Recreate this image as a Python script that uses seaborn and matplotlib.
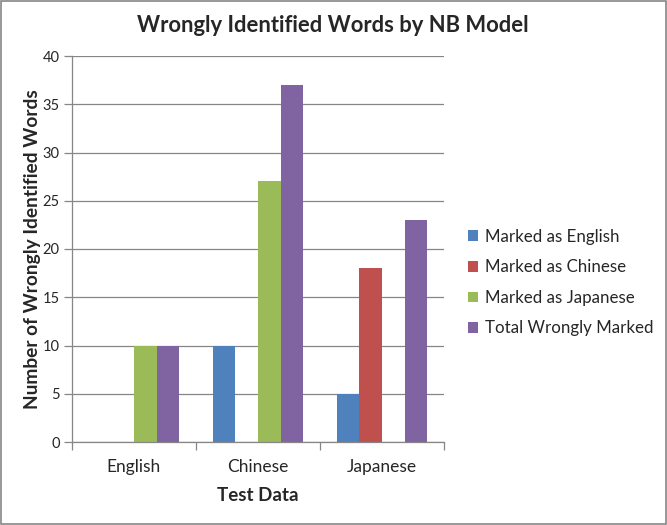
import matplotlib
matplotlib.use("Agg")
import matplotlib.pyplot as plt
import seaborn as sns
import pandas as pd
from matplotlib.patches import Rectangle

categories = ["English", "Chinese", "Japanese"]
series = ["Marked as English", "Marked as Chinese", "Marked as Japanese", "Total Wrongly Marked"]
marked_english = [0, 10, 5]
marked_chinese = [0, 0, 18]
marked_japanese = [10, 27, 0]
total_wrong = [10, 37, 23]
colors = ["#4F81BD", "#C0504D", "#9BBB59", "#8064A2"]

rows = []
for s, vals in zip(series, [marked_english, marked_chinese, marked_japanese, total_wrong]):
    for c, v in zip(categories, vals):
        rows.append({"Test Data": c, "Series": s, "Value": v})
df = pd.DataFrame(rows)

sns.set_theme(style="white")
plt.rcParams["font.family"] = ["Lato", "DejaVu Sans"]

fig = plt.figure(figsize=(6.67, 5.25), dpi=100)
ax = fig.add_axes([72/667, 83/525, 372/667, 386/525])

sns.barplot(data=df, x="Test Data", y="Value", hue="Series", hue_order=series,
            order=categories, palette=colors, width=0.726, saturation=1,
            linewidth=0, errorbar=None, ax=ax)

ax.set_ylim(0, 40)
ax.set_xlim(-0.5, 2.5)
ax.set_yticks(range(0, 41, 5))
ax.yaxis.grid(True, color="#868686", linewidth=0.9)
ax.set_axisbelow(True)
ax.set_xticks([0, 1, 2])
ax.set_xticklabels(categories, fontsize=12.5)
ax.set_xticks([-0.5, 0.5, 1.5, 2.5], minor=True)
ax.tick_params(axis="x", which="major", length=0, pad=12)
ax.tick_params(axis="x", which="minor", length=6, color="#868686", width=0.9, bottom=True)
ax.tick_params(axis="y", length=6, color="#868686", width=0.9, labelsize=10.5, left=True, pad=3)
for side in ["top", "right"]:
    ax.spines[side].set_visible(False)
for side in ["left", "bottom"]:
    ax.spines[side].set_color("#868686")
    ax.spines[side].set_linewidth(0.9)

ax.set_xlabel("Test Data", fontsize=13.5, fontweight="bold", labelpad=9)
ax.set_ylabel("Number of Wrongly Identified Words", fontsize=13.8, fontweight="bold", labelpad=1)
fig.text(333/667, 1 - 25/525, "Wrongly Identified Words by NB Model", ha="center", va="center",
         fontsize=15.8, fontweight="bold")

leg = ax.legend(loc="center left", bbox_to_anchor=(1.0645, 0.413), frameon=False,
                fontsize=12.2, handlelength=0.6, handleheight=0.6, labelspacing=0.86,
                handletextpad=0.4, borderpad=0, borderaxespad=0)

fig.patches.append(Rectangle((0.002, 0.002), 0.996, 0.996, transform=fig.transFigure,
                             fill=False, edgecolor="#868686", linewidth=1.2))

fig.savefig("out.png", dpi=100)
